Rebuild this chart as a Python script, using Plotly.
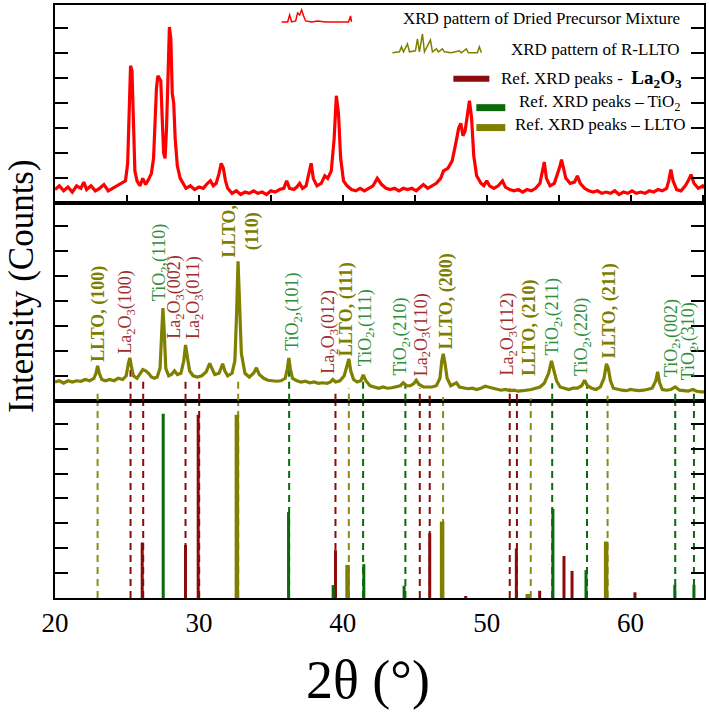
import plotly.graph_objects as go

# ---------------- data ----------------
# Top panel: XRD pattern of dried precursor mixture (arbitrary units)
tt_precursor = [20.0, 20.3, 20.6, 20.9, 21.2, 21.5, 21.8, 22.0, 22.2, 22.5, 22.8, 23.1, 23.4, 23.7, 24.0, 24.3,
                24.6, 24.9, 25.05, 25.15, 25.25, 25.35, 25.45, 25.55, 25.7, 25.9, 26.1, 26.3, 26.5, 26.7, 26.85,
                26.95, 27.05, 27.15, 27.25, 27.35, 27.45, 27.55, 27.65, 27.75, 27.85, 27.95, 28.05, 28.15, 28.25,
                28.35, 28.5, 28.7, 28.9, 29.1, 29.4, 29.7, 30.0, 30.3, 30.6, 30.8, 31.0, 31.2, 31.4, 31.55, 31.7,
                31.85, 32.0, 32.3, 32.6, 32.9, 33.2, 33.5, 33.8, 34.1, 34.4, 34.7, 35.0, 35.3, 35.6, 35.9, 36.1,
                36.3, 36.6, 36.8, 37.0, 37.2, 37.45, 37.65, 37.8, 37.95, 38.2, 38.5, 38.75, 38.95, 39.2, 39.4,
                39.55, 39.7, 39.85, 40.05, 40.3, 40.6, 40.9, 41.2, 41.5, 41.8, 42.1, 42.4, 42.7, 43.0, 43.3, 43.6,
                43.9, 44.2, 44.5, 44.8, 45.1, 45.4, 45.6, 45.9, 46.2, 46.5, 46.8, 47.0, 47.3, 47.6, 47.85, 48.05,
                48.2, 48.35, 48.5, 48.65, 48.8, 48.95, 49.1, 49.3, 49.6, 49.8, 50.0, 50.2, 50.5, 50.8, 51.1, 51.3,
                51.6, 51.9, 52.2, 52.5, 52.8, 53.1, 53.4, 53.7, 53.9, 54.0, 54.15, 54.4, 54.7, 54.95, 55.1, 55.2,
                55.35, 55.5, 55.8, 56.1, 56.3, 56.5, 56.8, 57.1, 57.4, 57.7, 58.0, 58.3, 58.6, 58.9, 59.2, 59.5,
                59.8, 60.1, 60.4, 60.7, 61.0, 61.3, 61.6, 61.9, 62.2, 62.5, 62.65, 62.8, 62.95, 63.2, 63.5, 63.8,
                64.0, 64.2, 64.4, 64.7, 65.0, 65.1]
int_precursor = [0.55, 0.7, 0.5, 0.65, 0.45, 0.7, 0.6, 0.85, 0.55, 0.7, 0.5, 0.6, 0.75, 0.5, 0.6, 0.7,
                 0.8, 0.9, 1.6, 3.8, 5.5, 5.3, 3.0, 1.3, 0.9, 0.7, 1.0, 0.75, 0.95, 1.2, 1.8,
                 3.2, 4.6, 5.1, 5.0, 4.9, 3.4, 2.0, 1.8, 3.0, 5.0, 7.05, 6.6, 4.4, 4.0,
                 2.6, 1.5, 1.0, 0.8, 0.6, 0.7, 0.55, 0.65, 0.6, 0.8, 0.9, 0.7, 0.8, 1.2, 1.6, 1.4,
                 0.9, 0.6, 0.4, 0.5, 0.35, 0.45, 0.4, 0.5, 0.4, 0.45, 0.35, 0.5, 0.45, 0.55, 0.6, 0.9,
                 0.6, 0.55, 0.65, 0.8, 0.6, 0.7, 1.2, 1.6, 1.0, 0.7, 0.8, 1.1, 1.0, 1.3, 2.6,
                 4.3, 3.6, 1.8, 0.9, 0.7, 0.55, 0.5, 0.6, 0.5, 0.6, 0.7, 1.0, 0.75, 0.6, 0.55, 0.6,
                 0.5, 0.6, 0.55, 0.6, 0.5, 0.65, 0.75, 0.6, 0.7, 0.8, 1.0, 1.3, 1.4, 1.7, 2.4, 3.0,
                 3.2, 2.7, 2.9, 3.6, 4.1, 3.4, 1.9, 1.1, 0.8, 0.7, 0.9, 0.7, 0.6, 0.7, 0.9, 0.65,
                 0.55, 0.5, 0.55, 0.45, 0.55, 0.5, 0.6, 0.8, 1.4, 1.65, 1.0, 0.7, 0.8, 1.2, 1.5, 1.75,
                 1.4, 1.0, 0.8, 0.85, 1.1, 0.8, 0.6, 0.5, 0.45, 0.5, 0.4, 0.45, 0.4, 0.5, 0.35, 0.45,
                 0.4, 0.5, 0.4, 0.45, 0.4, 0.5, 0.45, 0.55, 0.5, 0.6, 0.9, 1.35, 0.9, 0.55, 0.5, 0.7,
                 0.9, 1.15, 0.8, 0.6, 0.7, 0.6]

# Middle panel: XRD pattern of R-LLTO
tt_rllto = [20.0, 20.3, 20.6, 20.9, 21.2, 21.5, 21.8, 22.1, 22.4, 22.7, 22.85, 22.96, 23.08, 23.25, 23.5, 23.8,
            24.1, 24.4, 24.7, 24.95, 25.1, 25.2, 25.3, 25.45, 25.7, 25.9, 26.1, 26.3, 26.5, 26.7, 26.9, 27.1,
            27.3, 27.42, 27.5, 27.58, 27.7, 27.9, 28.1, 28.3, 28.5, 28.75, 28.95, 29.07, 29.2, 29.35, 29.6,
            29.9, 30.2, 30.5, 30.75, 30.9, 31.1, 31.4, 31.65, 31.8, 32.0, 32.3, 32.5, 32.62, 32.72, 32.82,
            32.95, 33.2, 33.5, 33.8, 34.0, 34.2, 34.5, 34.8, 35.1, 35.4, 35.7, 36.0, 36.15, 36.25, 36.35, 36.5,
            36.8, 37.1, 37.4, 37.7, 38.0, 38.3, 38.6, 38.9, 39.15, 39.3, 39.5, 39.8, 40.1, 40.3, 40.42, 40.55,
            40.75, 41.0, 41.25, 41.42, 41.6, 41.9, 42.2, 42.5, 42.8, 43.1, 43.4, 43.7, 44.0, 44.2, 44.4, 44.7,
            44.95, 45.1, 45.3, 45.6, 45.9, 46.2, 46.5, 46.75, 46.88, 46.98, 47.1, 47.25, 47.5, 47.9, 48.1,
            48.4, 48.7, 49.0, 49.3, 49.6, 49.9, 50.1, 50.4, 50.7, 51.0, 51.3, 51.6, 51.9, 52.2, 52.5, 52.8,
            53.1, 53.4, 53.7, 54.0, 54.3, 54.5, 54.65, 54.85, 55.1, 55.4, 55.7, 56.0, 56.3, 56.6, 56.8, 57.0,
            57.3, 57.6, 57.9, 58.15, 58.32, 58.45, 58.6, 58.8, 59.1, 59.4, 59.7, 60.0, 60.3, 60.6, 60.9, 61.2,
            61.5, 61.75, 61.88, 62.0, 62.2, 62.5, 62.8, 63.1, 63.4, 63.7, 64.0, 64.3, 64.6, 64.9, 65.1]
int_rllto = [0.75, 0.8, 0.7, 0.8, 0.75, 0.8, 0.78, 0.85, 0.8, 0.9, 1.1, 1.4, 1.1, 0.85, 0.8, 0.85,
             0.8, 0.9, 0.85, 1.0, 1.5, 1.72, 1.4, 1.0, 0.9, 1.1, 1.25, 1.2, 1.1, 0.95, 0.9, 0.95,
             1.3, 2.8, 3.72, 2.9, 1.3, 1.0, 1.05, 1.2, 1.05, 1.1, 1.6, 2.24, 1.7, 1.2, 1.0,
             0.95, 1.0, 1.15, 1.5, 1.3, 1.05, 1.1, 1.48, 1.2, 1.0, 1.1, 1.6, 3.5, 5.6, 4.0,
             1.9, 1.1, 0.95, 1.1, 1.32, 1.05, 0.9, 0.82, 0.8, 0.78, 0.8, 0.9, 1.3, 1.72, 1.3, 0.9,
             0.8, 0.75, 0.78, 0.72, 0.75, 0.7, 0.72, 0.7, 0.75, 0.85, 0.75, 0.8, 1.0, 1.5, 1.68, 1.2,
             0.85, 0.75, 0.8, 1.04, 0.8, 0.6, 0.55, 0.5, 0.55, 0.5, 0.52, 0.55, 0.6, 0.72, 0.6, 0.6,
             0.7, 0.82, 0.65, 0.55, 0.55, 0.55, 0.6, 0.9, 1.6, 1.88, 1.5, 0.9, 0.6, 0.72, 0.55,
             0.5, 0.48, 0.5, 0.45, 0.5, 0.58, 0.55, 0.5, 0.45, 0.42, 0.45, 0.4, 0.42, 0.38, 0.4, 0.42,
             0.45, 0.5, 0.55, 0.7, 1.1, 1.6, 1.3, 0.8, 0.55, 0.5, 0.45, 0.5, 0.5, 0.6, 0.82, 0.6,
             0.5, 0.45, 0.55, 0.9, 1.48, 1.3, 0.8, 0.5, 0.45, 0.42, 0.4, 0.45, 0.42, 0.4, 0.42, 0.45,
             0.5, 0.8, 1.16, 0.75, 0.45, 0.42, 0.45, 0.55, 0.42, 0.4, 0.38, 0.45, 0.38, 0.35, 0.35]

# Bottom panel: reference peak positions / relative intensities
la2o3_pos = [26.06, 29.07, 29.95, 39.49, 46.04, 48.54, 52.06, 53.68, 55.37, 55.93, 60.3]
la2o3_int = [2.23, 2.13, 7.36, 1.92, 2.6, 0.08, 1.99, 0.29, 1.69, 1.09, 0.23]
tio2_pos = [27.52, 36.23, 39.33, 41.46, 44.26, 54.6, 56.9, 63.07, 64.4]
tio2_int = [7.4, 3.45, 0.52, 1.36, 0.49, 3.59, 1.12, 0.53, 0.53]
llto_pos = [32.64, 40.33, 46.9, 52.85, 58.3]
llto_int = [7.36, 1.33, 3.07, 0.16, 2.27]

# Dashed guide lines: position and the height they reach in the R-LLTO panel
llto_guide = [22.96, 32.73, 40.42, 46.97, 53.06, 58.4]
llto_guide_top = [0.32, 0.8, 0.5, 0.15, 0.1, 0.2]
la2o3_guide = [25.25, 26.13, 29.07, 30.02, 39.49, 45.35, 46.04, 51.6, 52.1]
la2o3_guide_top = [1.6, 0.8, 0.8, 1.0, 0.48, 0.5, 0.2, 0.5, 0.27]
tio2_guide = [36.27, 41.41, 44.35, 54.55, 56.97, 63.1, 64.4]
tio2_guide_top = [1.48, 0.8, 0.7, 0.7, 0.6, 0.5, 0.5]

# Peak labels in the R-LLTO panel
label_text = ["LLTO, (100)", "La<sub>2</sub>O<sub>3</sub>(100)", "TiO<sub>2</sub>,(110)",
              "La<sub>2</sub>O<sub>3</sub>(002)", "La<sub>2</sub>O<sub>3</sub>(011)", "LLTO,<br>(110)",
              "TiO<sub>2</sub>,(101)", "La<sub>2</sub>O<sub>3</sub>(012)", "LLTO, (111)", "TiO<sub>2</sub>,(111)",
              "TiO<sub>2</sub>,(210)", "La<sub>2</sub>O<sub>3</sub>(110)", "LLTO, (200)",
              "La<sub>2</sub>O<sub>3</sub>(112)", "LLTO, (210)", "TiO<sub>2</sub>,(211)", "TiO<sub>2</sub>,(220)",
              "LLTO, (211)", "TiO<sub>2</sub>,(002)", "TiO<sub>2</sub>,(310)"]
label_x = [23.05, 25.0, 27.3, 28.4, 29.7, 32.9, 36.6, 39.1, 40.25, 41.6,
           44.1, 45.5, 47.2, 51.5, 53.0, 54.65, 56.7, 58.5, 62.9, 64.1]
label_y = [1.48, 1.8, 3.92, 2.4, 2.4, 5.68, 1.92, 1.0, 1.72, 1.32,
           0.92, 0.92, 2.0, 0.92, 0.92, 1.72, 0.92, 1.6, 0.88, 0.72]
label_phase = ["LLTO", "La2O3", "TiO2", "La2O3", "La2O3", "LLTO", "TiO2", "La2O3", "LLTO", "TiO2",
               "TiO2", "La2O3", "LLTO", "La2O3", "LLTO", "TiO2", "TiO2", "LLTO", "TiO2", "TiO2"]

x_ticks = [20, 30, 40, 50, 60]
x_minor = [20, 25, 30, 35, 40, 45, 50, 55, 60, 65]
y_ticks = [1, 2, 3, 4, 5, 6, 7]

# ---------------- styling ----------------
FONT = "Liberation Serif"
RED = "#ff0000"
OLIVE = "#7f7f00"
DARKRED = "#8b0a0a"
GREEN = "#0b6b0b"
TXT = {"LLTO": "#7d7d00", "La2O3": "#9e2f2f", "TiO2": "#2f8f3a"}
XR = [20, 65.1]
YR = [0, 7.93]
B1, B2 = 198 / 595, 396 / 595


def segments(xs, tops):
    sx, sy = [], []
    for p, t in zip(xs, tops):
        sx += [p, p, None]
        sy += [0, t, None]
    return sx, sy


fig = go.Figure()

# dashed guides (bottom panel full height, middle panel up to pattern)
for pos, tops, col in [(llto_guide, llto_guide_top, "#8c8c10"), (la2o3_guide, la2o3_guide_top, DARKRED),
                       (tio2_guide, tio2_guide_top, GREEN)]:
    gx, gy = segments(pos, [YR[1]] * len(pos))
    fig.add_trace(go.Scatter(x=gx, y=gy, mode="lines", xaxis="x", yaxis="y",
                             line=dict(color=col, width=2, dash="7px,5px"), hoverinfo="skip", showlegend=False))
    mx, my = segments(pos, tops)
    fig.add_trace(go.Scatter(x=mx, y=my, mode="lines", xaxis="x2", yaxis="y2",
                             line=dict(color=col, width=2, dash="7px,5px"), hoverinfo="skip", showlegend=False))

# reference peak bars
for pos, ints, col, w in [(la2o3_pos, la2o3_int, DARKRED, 3), (tio2_pos, tio2_int, GREEN, 3),
                          (llto_pos, llto_int, OLIVE, 4.5)]:
    bx, by = segments(pos, ints)
    fig.add_trace(go.Scatter(x=bx, y=by, mode="lines", xaxis="x", yaxis="y",
                             line=dict(color=col, width=w), hoverinfo="skip", showlegend=False))

# patterns
fig.add_trace(go.Scatter(x=tt_rllto, y=int_rllto, mode="lines", xaxis="x2", yaxis="y2",
                         line=dict(color=OLIVE, width=3.2), showlegend=False))
fig.add_trace(go.Scatter(x=tt_precursor, y=int_precursor, mode="lines", xaxis="x3", yaxis="y3",
                         line=dict(color=RED, width=3.2), showlegend=False))

axis_common = dict(range=XR, showgrid=False, zeroline=False, showline=True, linecolor="black",
                   linewidth=2, mirror=True)
yaxis_common = dict(range=YR, showgrid=False, zeroline=False, showline=True, linecolor="black",
                    linewidth=2, mirror="ticks", ticks="inside", ticklen=13, tickwidth=2,
                    tickcolor="black", tickvals=y_ticks, showticklabels=False)

annotations = []
for t, x, y, ph in zip(label_text, label_x, label_y, label_phase):
    txt = "<b>" + t + "</b>" if ph == "LLTO" else t
    annotations.append(dict(x=x, y=y, xref="x2", yref="y2", text=txt, textangle=-90, showarrow=False,
                            xanchor="center", yanchor="bottom",
                            font=dict(family=FONT, size=18, color=TXT[ph])))


def px_x(p):
    return (p - 55) / 650


def px_y(p):
    return (598 - p) / 595


# legend texts
legend_items = [("XRD pattern of Dried Precursor Mixture", 683, 17),
                ("XRD pattern of R-LLTO", 683, 48),
                ("Ref. XRD peaks -\u00a0 <b><span style='font-size:19px'>La<sub>2</sub>O<sub>3</sub></span></b>", 685, 77),
                ("Ref. XRD peaks \u2013 TiO<sub>2</sub>", 683, 101),
                ("Ref. XRD peaks \u2013 LLTO", 688, 123)]
for txt, xr, yc in legend_items:
    annotations.append(dict(x=px_x(xr), y=px_y(yc), xref="paper", yref="paper", text=txt, showarrow=False,
                            xanchor="right", yanchor="middle", font=dict(family=FONT, size=17, color="black")))

# axis titles
annotations.append(dict(x=px_x(21), y=px_y(285), xref="paper", yref="paper", text="Intensity (Counts)",
                        textangle=-90, showarrow=False, xanchor="center", yanchor="middle",
                        font=dict(family=FONT, size=35, color="black")))
annotations.append(dict(x=px_x(368), y=px_y(680), xref="paper", yref="paper", text="2\u03b8 (\u00b0)",
                        showarrow=False, xanchor="center", yanchor="middle",
                        font=dict(family=FONT, size=54, color="black")))


def path_from(pts):
    return "M " + " L ".join(f"{px_x(a):.5f},{px_y(b):.5f}" for a, b in pts)


red_swatch = [(282, 20), (288, 20), (290, 13), (292, 20), (296, 19), (298, 11), (300, 13), (302, 8),
              (304, 14), (306, 19), (312, 20), (318, 19), (326, 20), (334, 20), (344, 20), (349, 20),
              (351, 14), (352, 20)]
olive_swatch = [(393, 51), (400, 50), (402, 45), (404, 50), (408, 42), (410, 50), (416, 49), (418, 37),
                (420, 50), (423, 32), (425, 50), (431, 38), (433, 50), (437, 47), (439, 50), (443, 47),
                (445, 50), (452, 51), (460, 49), (462, 51), (467, 47), (469, 51), (478, 51), (480, 45),
                (482, 51)]
shapes = [
    dict(type="path", xref="paper", yref="paper", path=path_from(red_swatch),
         line=dict(color=RED, width=1.5)),
    dict(type="path", xref="paper", yref="paper", path=path_from(olive_swatch),
         line=dict(color=OLIVE, width=1.5)),
    dict(type="line", xref="paper", yref="paper", x0=px_x(454), x1=px_x(490), y0=px_y(77), y1=px_y(77),
         line=dict(color=DARKRED, width=6)),
    dict(type="line", xref="paper", yref="paper", x0=px_x(477), x1=px_x(506), y0=px_y(106), y1=px_y(106),
         line=dict(color=GREEN, width=7)),
    dict(type="line", xref="paper", yref="paper", x0=px_x(477), x1=px_x(506), y0=px_y(126), y1=px_y(126),
         line=dict(color=OLIVE, width=7)),
]

fig.update_layout(
    width=709, height=712,
    margin=dict(l=55, r=4, t=3, b=114),
    paper_bgcolor="white", plot_bgcolor="white",
    font=dict(family=FONT, color="black"),
    showlegend=False,
    xaxis=dict(**axis_common, anchor="y", tickvals=x_ticks, ticks="", ticklen=0,
               tickfont=dict(family=FONT, size=27, color="black")),
    xaxis2=dict(**axis_common, anchor="y2", showticklabels=False, ticks="", matches="x"),
    xaxis3=dict(**axis_common, anchor="y3", showticklabels=False, ticks="inside", ticklen=8, tickwidth=2,
                tickcolor="black", tickvals=x_minor, matches="x"),
    yaxis=dict(**yaxis_common, domain=[0, B1], anchor="x"),
    yaxis2=dict(**yaxis_common, domain=[B1, B2], anchor="x2"),
    yaxis3=dict(**yaxis_common, domain=[B2, 1], anchor="x3"),
    annotations=annotations,
    shapes=shapes,
)

fig.write_html("out.html", config={"displayModeBar": False},
               post_script="document.body.style.margin='0';")
